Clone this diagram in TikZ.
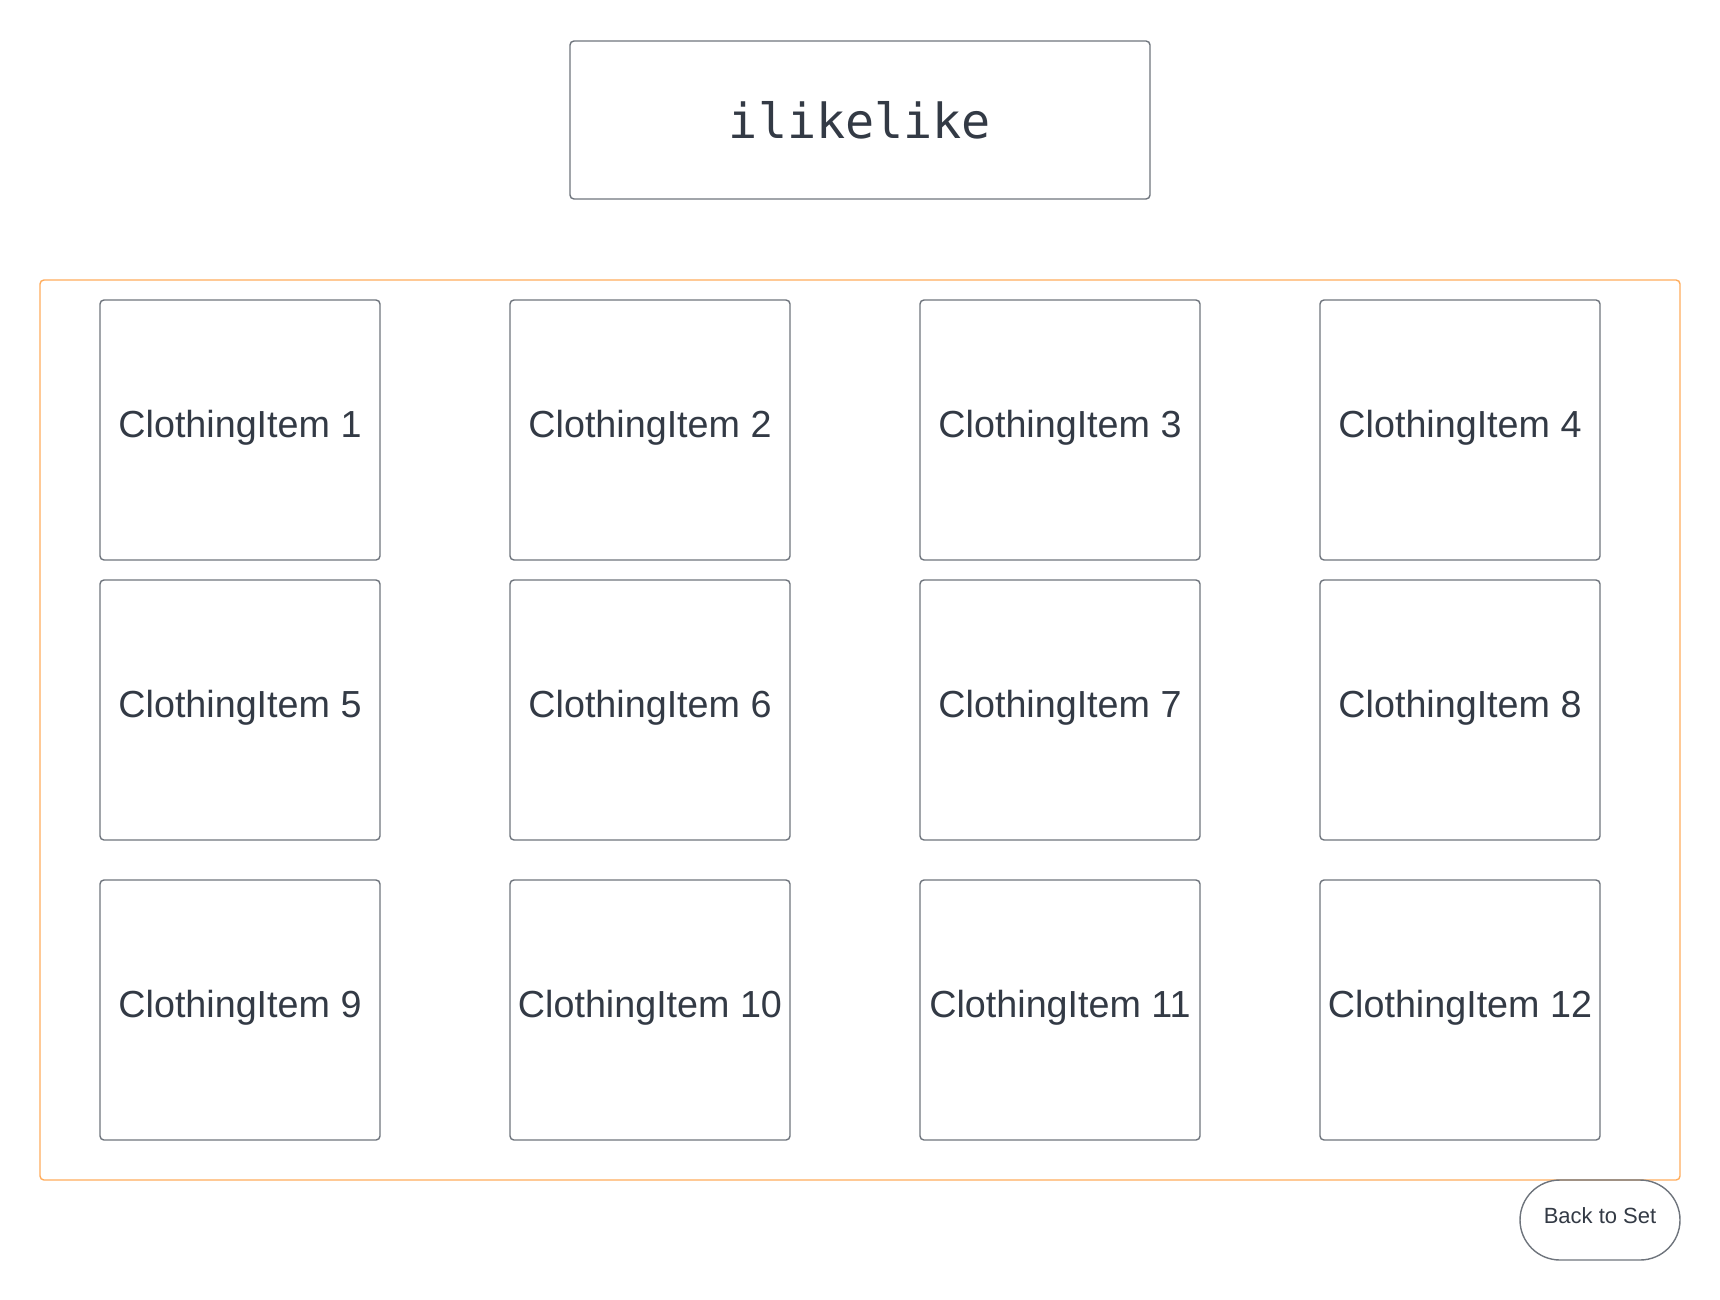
\documentclass[tikz,border=0pt]{standalone}
\usepackage{fontspec}
\setmainfont{Liberation Sans}
\newfontfamily\titlefont{DejaVu Sans Mono}
\usetikzlibrary{
    positioning,% wg. " of "
    shapes%
}
\definecolor{inkgray}{RGB}{51,58,69}
\definecolor{framegray}{RGB}{110,116,124}
\definecolor{panelorange}{RGB}{255,172,92}

\begin{document}
\begin{tikzpicture}[x=1pt,y=-1pt,
    itembox/.style={draw=framegray, line width=1.4pt, rounded corners=4pt,
        minimum width=280pt, minimum height=260pt, inner sep=0pt,
        text depth=12pt, text=inkgray, font=\fontsize{37.7}{40}\selectfont},
    titlebox/.style={draw=framegray, line width=1.4pt, rounded corners=4pt,
        minimum width=580pt, minimum height=158pt, inner sep=0pt,
        text=inkgray, font=\titlefont\fontsize{48.4}{52}\selectfont},
    panel/.style={draw=panelorange, line width=1.4pt, rounded corners=4pt,
        minimum width=1640pt, minimum height=900pt, inner sep=0pt},
    backbutton/.style={draw=framegray, line width=1.4pt, rounded corners=40pt,
        minimum width=160pt, minimum height=80pt, inner sep=0pt,
        text depth=8pt, text=inkgray, font=\fontsize{22}{24}\selectfont}]

    \useasboundingbox (0,0) rectangle (1720,1300);

    \draw (860,730) node[panel] (closet) {}; %%% orange frame round the grid

    \draw (860,120) node[titlebox] (title) {ilikelike};

    %%% first row
    \draw (240,430) node[itembox] (item1) {ClothingItem 1};
    \draw (650,430) node[itembox] (item2) {ClothingItem 2};
    \draw (1060,430) node[itembox] (item3) {ClothingItem 3};
    \draw (1460,430) node[itembox] (item4) {ClothingItem 4};

    %%% second row
    \draw (240,710) node[itembox] (item5) {ClothingItem 5};
    \draw (650,710) node[itembox] (item6) {ClothingItem 6};
    \draw (1060,710) node[itembox] (item7) {ClothingItem 7};
    \draw (1460,710) node[itembox] (item8) {ClothingItem 8};

    %%% third row
    \draw (240,1010) node[itembox] (item9) {ClothingItem 9};
    \draw (650,1010) node[itembox] (item10) {ClothingItem 10};
    \draw (1060,1010) node[itembox] (item11) {ClothingItem 11};
    \draw (1460,1010) node[itembox] (item12) {ClothingItem 12};

    \draw (1600,1220) node[backbutton] (back) {Back to Set};
\end{tikzpicture}
\end{document}
